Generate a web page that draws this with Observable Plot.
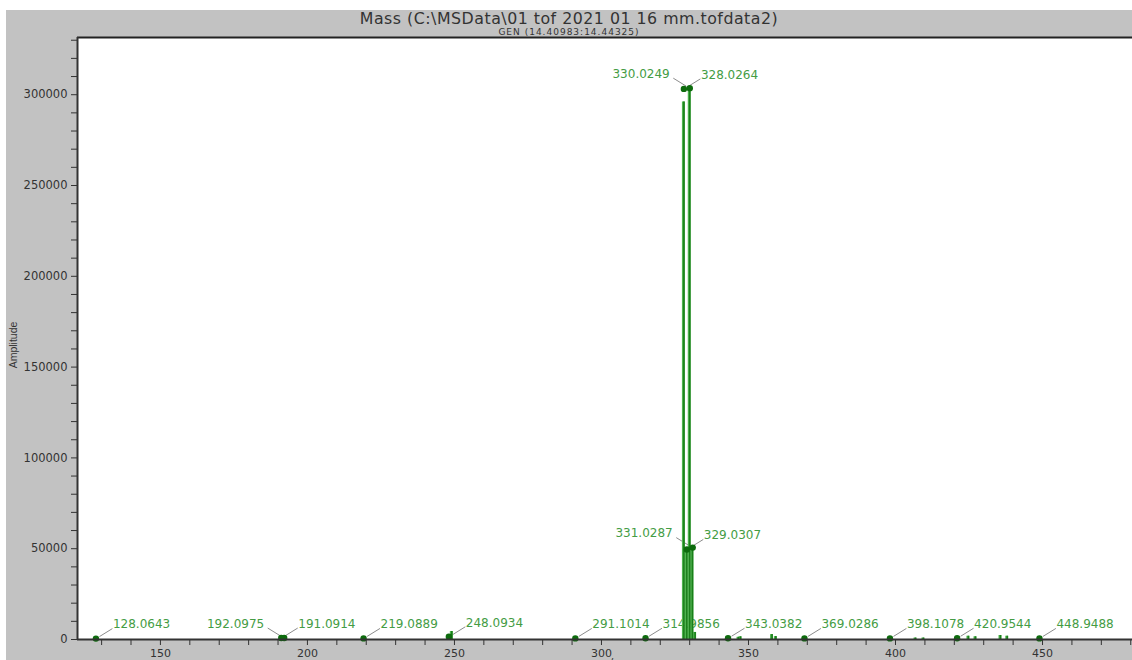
<!DOCTYPE html>
<html><head><meta charset="utf-8">
<script src="https://cdn.jsdelivr.net/npm/d3@7"></script>
<script src="https://cdn.jsdelivr.net/npm/@observablehq/plot@0.6"></script>
<style>
html,body{margin:0;padding:0;background:#fff;overflow:hidden;width:1132px;height:660px;}
#panel{position:absolute;left:6px;top:10px;width:1126px;height:650px;background:#c2c2c2;overflow:visible;}
#title{position:absolute;left:0;top:0.5px;width:1126px;text-align:center;font-family:"DejaVu Sans";font-size:15.8px;letter-spacing:0.5px;line-height:16px;color:#333;white-space:pre;}
#subtitle{position:absolute;left:0;top:18.4px;width:1126px;text-align:center;font-family:"DejaVu Sans";font-size:9px;letter-spacing:1px;line-height:9px;color:#333;white-space:pre;}
#ylab{position:absolute;left:7px;top:335px;transform:translate(-50%,-50%) rotate(-90deg);font-family:"Liberation Sans";font-size:10.5px;color:#333;white-space:nowrap;}
#xlab{position:absolute;left:603px;top:647px;transform:translateX(-50%);font-family:"DejaVu Sans";font-size:11px;line-height:12px;color:#333;}
#chart{position:absolute;left:0;top:0;}
</style></head>
<body>
<div id="panel">
  <div id="chart"></div>
  <div id="title">Mass (C:\MSData\01 tof 2021 01 16 mm.tofdata2)</div>
  <div id="subtitle">GEN (14.40983:14.44325)</div>
  <div id="ylab">Amplitude</div>
  <div id="xlab">m/z</div>
</div>
<script>
// Axis domains and tick values
const xDomain = [121.8, 480.6];
const yDomain = [0, 331500];
const xTicks = [150, 200, 250, 300, 350, 400, 450];
const xMinor = d3.range(130, 481, 10);
const yTicks = [0, 50000, 100000, 150000, 200000, 250000, 300000];
const yMinor = d3.range(0, 331000, 10000);

// Spectrum sticks (m/z, amplitude)
const stickMass = [128.06, 191.09, 192.10, 219.09, 248.09, 249.1, 291.10, 314.99,
  328.03, 329.03, 330.02, 330.95, 331.85, 343.04, 346.6, 347.3, 358.0, 359.3,
  369.03, 398.11, 406.8, 409.5, 420.95, 424.8, 427.2, 435.7, 438.0, 448.95];
const stickAmp = [500, 800, 800, 600, 1500, 4400, 600, 700,
  296000, 50500, 303500, 49500, 3900, 700, 1200, 1500, 2700, 1600,
  600, 600, 800, 800, 700, 1800, 1500, 2200, 1800, 600];

// Labelled peaks
const labelMass = [128.0643, 192.0975, 191.0914, 219.0889, 248.0934, 291.1014, 314.9856,
  330.0249, 328.0264, 331.0287, 329.0307, 343.0382, 369.0286, 398.1078, 420.9544, 448.9488];
const labelAmp = [500, 800, 800, 600, 1500, 600, 700,
  303600, 303200, 50600, 49600, 700, 600, 600, 700, 600];
const labelSide = [1, -1, 1, 1, 1, 1, 1, -1, 1, -1, 1, 1, 1, 1, 1, 1];

const sticks = stickMass.map((m, i) => ({m, a: stickAmp[i]}));
const peaks = labelMass.map((m, i) => ({m, a: labelAmp[i], s: labelSide[i], t: m.toFixed(4)}));

const chart = Plot.plot({
  width: 1126,
  height: 650,
  marginTop: 27,
  marginBottom: 21,
  marginLeft: 71,
  marginRight: 0,
  style: {fontFamily: "DejaVu Sans", fontSize: "11px", background: "transparent", overflow: "visible"},
  x: {domain: xDomain, axis: null},
  y: {domain: yDomain, axis: null},
  marks: [
    Plot.frame({fill: "white", stroke: null}),
    Plot.text(peaks.filter(d => d.s > 0), {x: "m", y: "a", text: "t", textAnchor: "start", dx: 17, dy: -14, fill: "#449c44", fontSize: 12}),
    Plot.text(peaks.filter(d => d.s < 0), {x: "m", y: "a", text: "t", textAnchor: "end", dx: -20, dy: -14, fill: "#449c44", fontSize: 12}),
    Plot.link(peaks, {x1: d => d.m + d.s * 1.2, y1: d => d.a + 1100, x2: d => d.m + d.s * 5.6, y2: d => d.a + 5500, stroke: "#8c8c8c", strokeWidth: 1}),
    Plot.rect(sticks, {x1: d => d.m - 0.5, x2: d => d.m + 0.5, y1: 0, y2: "a", fill: "#4fb34f"}),
    Plot.ruleX(sticks, {x: "m", y1: 0, y2: "a", stroke: "#1a7f1a", strokeWidth: 1.6}),
    Plot.dot(peaks, {x: "m", y: "a", r: 3.2, fill: "#0d6b0d"}),
    Plot.ruleY([yDomain[1]], {stroke: "#222", strokeWidth: 2}),
    Plot.ruleY([yDomain[0]], {stroke: "#333", strokeWidth: 2}),
    Plot.ruleX([xDomain[0]], {stroke: "#333", strokeWidth: 2}),
    Plot.axisX({ticks: xMinor, tickFormat: d => xTicks.includes(d) ? String(d) : "", tickSize: 6, tickPadding: 4, color: "#333", fontSize: 11, label: null}),
    Plot.axisY({ticks: yMinor, tickFormat: d => yTicks.includes(d) ? String(d) : "", tickSize: 6, tickPadding: 4, color: "#333", fontSize: 11.5, label: null})
  ]
});
document.getElementById("chart").appendChild(chart);
</script>
</body></html>
